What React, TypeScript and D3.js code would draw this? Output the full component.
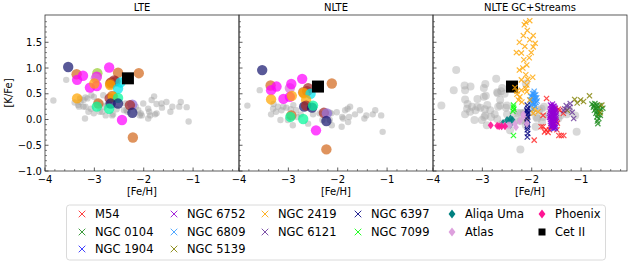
import React from 'react';
import * as d3 from 'd3';

type Pt = [number, number];
type LitPt = [number, number, string];

// literature stars coloured by source (LTE / NLTE panels)
const LIT_COLORS: Record<string, string> = {
  A: '#191970', // midnightblue
  B: '#d2691e', // chocolate
  C: '#ff00ff', // magenta
  D: '#ffa500', // orange
  E: '#a52a2a', // brown
  F: '#00e5ee', // cyan
  G: '#00fa9a', // springgreen
  H: '#9acd32', // yellowgreen
  I: '#9370db', // mediumpurple
  J: '#da70d6', // orchid
};

const LIT_LTE: LitPt[] = [
  [-3.53, 1.02, 'A'], [-3.36, 0.88, 'B'], [-3.23, 0.85, 'C'], [-3.35, 0.77, 'C'],
  [-2.94, 0.9, 'H'], [-2.95, 0.83, 'C'], [-2.97, 0.8, 'J'], [-2.7, 1.01, 'C'],
  [-2.52, 0.91, 'B'], [-2.1, 0.9, 'B'], [-3.09, 0.62, 'C'], [-2.95, 0.65, 'C'],
  [-3.0, 0.7, 'D'], [-2.66, 0.72, 'E'], [-2.6, 0.76, 'E'], [-2.57, 0.74, 'E'],
  [-2.68, 0.7, 'B'], [-2.68, 0.67, 'D'], [-2.52, 0.6, 'F'], [-2.47, 0.72, 'F'],
  [-3.35, 0.41, 'D'], [-2.69, 0.41, 'E'], [-2.64, 0.46, 'B'], [-2.62, 0.44, 'D'],
  [-2.52, 0.42, 'G'], [-2.67, 0.31, 'A'], [-2.52, 0.31, 'A'], [-2.92, 0.31, 'B'],
  [-2.95, 0.25, 'G'], [-2.7, 0.21, 'G'], [-2.23, 0.29, 'I'], [-2.28, 0.28, 'E'],
  [-2.23, 0.13, 'A'], [-2.44, -0.01, 'C'], [-2.22, -0.35, 'B'],
];

const LIT_NLTE: LitPt[] = [
  [-3.53, 0.96, 'A'], [-3.36, 0.66, 'B'], [-3.24, 0.64, 'C'], [-3.35, 0.57, 'C'],
  [-3.35, 0.39, 'D'], [-3.1, 0.4, 'C'], [-2.97, 0.61, 'J'], [-2.94, 0.69, 'C'],
  [-2.97, 0.44, 'C'], [-2.93, 0.46, 'D'], [-2.72, 0.79, 'C'], [-2.6, 0.61, 'E'],
  [-2.62, 0.55, 'E'], [-2.7, 0.53, 'B'], [-2.69, 0.51, 'D'], [-2.55, 0.5, 'F'],
  [-2.64, 0.38, 'D'], [-2.12, 0.7, 'B'], [-2.68, 0.25, 'A'], [-2.64, 0.27, 'E'],
  [-2.52, 0.23, 'A'], [-2.5, 0.27, 'G'], [-2.94, 0.08, 'B'], [-2.96, 0.05, 'G'],
  [-2.7, 0.01, 'G'], [-2.28, 0.13, 'E'], [-2.22, 0.12, 'I'], [-2.23, -0.03, 'A'],
  [-2.44, -0.21, 'C'], [-2.23, -0.58, 'B'],
];

const FIELD_LTE: Pt[] = [
  [-3.83, 0.37], [-3.57, 0.77], [-3.33, 0.28], [-3.29, 0.41], [-3.28, 0.34], [-3.22, 0.38],
  [-3.18, 0.43], [-3.14, 0.41], [-3.06, 0.47], [-3.01, 0.44], [-3.22, 0.25], [-3.18, 0.25],
  [-3.31, 0.25], [-3.12, 0.15], [-3.07, 0.21], [-3.19, 0.02], [-2.89, 0.15], [-2.87, 0.31],
  [-2.82, 0.47], [-2.81, 0.25], [-2.84, 0.15], [-3.01, 0.12], [-2.77, 0.08], [-2.64, 0.08],
  [-2.62, 0.1], [-2.4, 0.18], [-2.35, 0.18], [-2.33, 0.15], [-2.37, 0.31], [-2.16, 0.25],
  [-2.11, 0.18], [-2.08, 0.08], [-2.06, 0.12], [-2.01, 0.31], [-2.04, 0.08], [-1.91, 0.21],
  [-1.89, 0.15], [-1.91, 0.02], [-1.87, 0.08], [-1.84, 0.38], [-1.79, 0.45], [-1.77, 0.1],
  [-1.74, 0.3], [-1.74, 0.12], [-1.64, 0.31], [-1.63, 0.23], [-1.54, 0.34], [-1.46, 0.15],
  [-1.42, 0.25], [-1.28, 0.25], [-1.25, 0.34], [-1.13, 0.24], [-1.09, -0.04], [-2.95, 0.35],
  [-2.75, 0.28], [-3.4, 0.33], [-2.55, 0.2],
];

const FIELD_NLTE: Pt[] = [
  [-3.83, 0.27], [-3.58, 0.57], [-3.31, 0.21], [-3.21, 0.25], [-3.35, 0.1], [-3.14, 0.18],
  [-3.04, 0.23], [-3.16, -0.01], [-3.01, -0.01], [-2.91, -0.11], [-2.84, 0.18], [-2.82, 0.05],
  [-2.6, -0.08], [-2.37, 0.12], [-2.31, -0.01], [-2.16, 0.13], [-2.13, 0.12], [-2.16, -0.01],
  [-2.02, 0.14], [-2.12, -0.11], [-1.92, -0.14], [-1.89, 0.02], [-1.79, -0.05], [-1.85, 0.18],
  [-1.8, 0.21], [-1.75, 0.25], [-1.77, 0.05], [-1.91, 0.05], [-1.65, 0.1], [-1.55, 0.18],
  [-1.46, 0.02], [-1.42, 0.08], [-1.29, 0.1], [-1.24, 0.18], [-1.12, 0.08], [-1.09, -0.24],
  [-3.25, 0.15], [-2.95, 0.2], [-3.1, 0.25], [-2.75, 0.1], [-2.9, 0.28], [-2.5, 0.1], [-3.3, 0.3],
];

const CET_LTE: Pt = [-2.32, 0.8];
const CET_NLTE: Pt = [-2.4, 0.64];

// globular clusters (x markers)
const M54: Pt[] = [
  [-1.7, 0.41], [-1.53, 0.21], [-1.43, 0.18], [-1.46, 0.2], [-1.77, 0.08], [-1.81, -0.14],
  [-1.74, -0.24], [-1.67, -0.25], [-1.49, -0.2], [-1.51, -0.03], [-1.48, -0.07], [-1.77, -0.14],
  [-1.61, -0.16], [-1.45, -0.31], [-1.4, -0.31], [-1.35, -0.31], [-1.95, -0.4], [-1.71, -0.2],
  [-1.36, 0.12], [-1.64, -0.2],
];
const NGC0104: Pt[] = [
  [-0.78, 0.3], [-0.72, 0.31], [-0.68, 0.28], [-0.62, 0.27], [-0.75, 0.24], [-0.7, 0.22],
  [-0.65, 0.22], [-0.6, 0.2], [-0.73, 0.18], [-0.68, 0.16], [-0.63, 0.15], [-0.7, 0.12],
  [-0.66, 0.1], [-0.61, 0.08], [-0.68, 0.05], [-0.64, 0.02], [-0.67, -0.03], [-0.66, -0.08],
  [-0.56, 0.22], [-0.74, 0.27],
];
const NGC1904: Pt[] = [[-1.6, -0.14], [-1.55, -0.18], [-1.52, -0.16], [-1.57, -0.1]];
const NGC6752: Pt[] = [
  [-1.62, 0.28], [-1.58, 0.3], [-1.55, 0.26], [-1.6, 0.22], [-1.56, 0.2], [-1.52, 0.22],
  [-1.63, 0.16], [-1.59, 0.14], [-1.54, 0.15], [-1.5, 0.12], [-1.61, 0.1], [-1.57, 0.08],
  [-1.53, 0.06], [-1.64, 0.04], [-1.6, 0.02], [-1.56, 0.0], [-1.52, 0.02], [-1.62, -0.04],
  [-1.58, -0.06], [-1.54, -0.08], [-1.5, -0.04], [-1.6, -0.12], [-1.56, -0.14], [-1.52, -0.12],
  [-1.58, 0.18], [-1.55, 0.11], [-1.59, -0.01], [-1.53, -0.02], [-1.57, 0.25], [-1.51, 0.17],
  [-1.6, 0.26], [-1.54, 0.24], [-1.62, 0.2], [-1.56, 0.17], [-1.61, 0.13], [-1.55, 0.13],
  [-1.58, 0.11], [-1.63, 0.07], [-1.55, 0.05], [-1.51, 0.08], [-1.6, 0.05], [-1.57, 0.03],
  [-1.62, 0.0], [-1.54, -0.02], [-1.58, -0.03], [-1.61, -0.08], [-1.55, -0.1], [-1.58, -0.12],
  [-1.53, -0.15], [-1.57, -0.17],
];
const NGC6809: Pt[] = [
  [-2.02, 0.45], [-1.98, 0.5], [-1.95, 0.55], [-1.92, 0.48], [-1.97, 0.4], [-2.0, 0.35],
  [-1.94, 0.38], [-1.9, 0.42], [-1.96, 0.3], [-2.01, 0.28], [-1.93, 0.25], [-1.98, 0.2],
  [-1.91, 0.33], [-1.99, 0.44], [-1.95, 0.47], [-1.89, 0.36], [-2.03, 0.38], [-1.96, 0.34],
  [-1.97, 0.45], [-1.93, 0.42], [-1.99, 0.32], [-1.94, 0.3], [-1.96, 0.51],
];
const NGC5139: Pt[] = [
  [-1.28, 0.18], [-1.08, 0.32], [-1.01, 0.38], [-0.83, 0.46], [-0.58, 0.28], [-0.61, 0.13],
  [-1.13, 0.39], [-0.95, 0.35],
];
const NGC2419: Pt[] = [
  [-2.12, 1.89], [-2.04, 1.92], [-2.15, 1.84], [-2.09, 1.73], [-1.97, 1.63], [-2.17, 1.63],
  [-2.04, 1.55], [-2.25, 1.5], [-1.93, 1.48], [-1.97, 1.41], [-2.14, 1.42], [-2.31, 1.3],
  [-2.21, 1.29], [-2.01, 1.3], [-2.16, 1.16], [-2.1, 1.06], [-2.25, 0.96], [-2.12, 0.87],
  [-2.21, 0.77], [-2.08, 0.78], [-1.98, 0.82], [-2.34, 0.62], [-2.21, 0.57], [-2.12, 0.6],
  [-2.3, 0.49], [-2.24, 0.44], [-2.27, 0.38], [-2.1, 0.67], [-2.1, 0.54], [-1.97, 0.12],
  [-1.87, 0.15], [-2.1, 0.02], [-2.2, 0.34], [-2.04, 0.38], [-2.3, 0.55], [-1.95, 0.2],
  [-2.18, 1.0], [-2.05, 1.2],
];
const NGC6121: Pt[] = [
  [-1.3, 0.27], [-1.22, 0.31], [-1.23, 0.24], [-1.33, 0.21], [-1.15, 0.02], [-1.18, 0.14],
  [-1.35, 0.17],
];
const NGC6397: Pt[] = [
  [-2.09, 0.28], [-2.08, 0.22], [-2.1, 0.18], [-2.09, 0.16], [-2.08, 0.12], [-2.1, 0.1],
  [-2.08, 0.05], [-2.09, 0.0], [-2.1, -0.05], [-2.08, -0.1], [-2.09, -0.15], [-2.09, -0.2],
  [-2.08, -0.27], [-2.09, -0.34],
];
const NGC7099: Pt[] = [[-2.37, 0.28], [-2.37, 0.24], [-2.36, 0.2], [-2.38, 0.16], [-2.37, -0.31]];

// streams / dwarfs (diamonds)
const ALIQA_UMA: Pt[] = [[-2.5, -0.01], [-2.43, 0.02], [-2.58, -0.07], [-2.43, -0.1], [-2.39, -0.01], [-2.46, -0.05]];
const ATLAS: Pt[] = [
  [-2.61, -0.13], [-2.48, -0.11], [-2.34, -0.08], [-2.24, -0.03], [-2.17, 0.1], [-2.32, -0.15],
  [-2.44, -0.11], [-2.1, -0.08], [-2.17, 0.06], [-2.55, -0.12],
];
const PHOENIX: Pt[] = [[-2.83, -0.11], [-2.7, -0.12], [-2.66, -0.13], [-2.61, -0.13], [-2.54, -0.13]];

interface Group { name: string; color: string; marker: 'x' | 'd' | 's'; data: Pt[] }

const GROUPS: Group[] = [
  { name: 'M54', color: '#ff2020', marker: 'x', data: M54 },
  { name: 'NGC 0104', color: '#1a8a1a', marker: 'x', data: NGC0104 },
  { name: 'NGC 1904', color: '#2020ff', marker: 'x', data: NGC1904 },
  { name: 'NGC 6752', color: '#9400d3', marker: 'x', data: NGC6752 },
  { name: 'NGC 6809', color: '#3399ff', marker: 'x', data: NGC6809 },
  { name: 'NGC 5139', color: '#808000', marker: 'x', data: NGC5139 },
  { name: 'NGC 2419', color: '#ffa500', marker: 'x', data: NGC2419 },
  { name: 'NGC 6121', color: '#663399', marker: 'x', data: NGC6121 },
  { name: 'NGC 6397', color: '#000080', marker: 'x', data: NGC6397 },
  { name: 'NGC 7099', color: '#00ff00', marker: 'x', data: NGC7099 },
  { name: 'Aliqa Uma', color: '#008080', marker: 'd', data: ALIQA_UMA },
  { name: 'Atlas', color: '#dda0dd', marker: 'd', data: ATLAS },
  { name: 'Phoenix', color: '#ff1493', marker: 'd', data: PHOENIX },
  { name: 'Cet II', color: '#000000', marker: 's', data: [CET_NLTE] },
];

const X_TICKS = [-4, -3, -2, -1];
const Y_TICKS = [-1.0, -0.5, 0.0, 0.5, 1.0, 1.5];
const TITLES = ['LTE', 'NLTE', 'NLTE GC+Streams'];

const FONT = 'DejaVu Sans, sans-serif';
const W = 632;
const H = 266;
const PANEL_W = 194;
const PANEL_LEFTS = [45, 239, 433];
const TOP = 15;
const BOTTOM = 171;
const AXIS = '#333';

const fmt = (v: number, digits: number) => {
  const s = v.toFixed(digits);
  return s.startsWith('-') ? '\u2212' + s.slice(1) : s;
};

const XMark = ({ x, y, r, color, sw = 1.2, op = 0.8 }: { x: number; y: number; r: number; color: string; sw?: number; op?: number }) => (
  <path
    d={`M${x - r},${y - r}L${x + r},${y + r}M${x - r},${y + r}L${x + r},${y - r}`}
    stroke={color}
    strokeWidth={sw}
    opacity={op}
    fill="none"
  />
);

const Diamond = ({ x, y, r, color, op = 0.9 }: { x: number; y: number; r: number; color: string; op?: number }) => (
  <path d={`M${x},${y - r}L${x + r * 0.75},${y}L${x},${y + r}L${x - r * 0.75},${y}Z`} fill={color} opacity={op} />
);

function Panel({ idx }: { idx: number }) {
  const left = PANEL_LEFTS[idx];
  const x = d3.scaleLinear().domain([-4, -0.07]).range([left, left + PANEL_W]);
  const y = d3.scaleLinear().domain([-1, 2.03]).range([BOTTOM, TOP]);
  const xMinor = d3.range(-4, -0.05, 0.2).filter((v) => Math.abs(v - Math.round(v)) > 0.01);
  const yMinor = d3.range(-1, 2.01, 0.1).filter((v) => Math.abs(v * 2 - Math.round(v * 2)) > 0.01);

  const field = idx === 0 ? FIELD_LTE : FIELD_NLTE;
  const lit = idx === 0 ? LIT_LTE : LIT_NLTE;
  const cet = idx === 0 ? CET_LTE : CET_NLTE;

  return (
    <g>
      <defs>
        <clipPath id={`clip${idx}`}>
          <rect x={left} y={TOP} width={PANEL_W} height={BOTTOM - TOP} />
        </clipPath>
      </defs>
      <g clipPath={`url(#clip${idx})`}>
        {idx < 2 && (
          <>
            {field.map((d, i) => (
              <circle key={`f${i}`} cx={x(d[0])} cy={y(d[1])} r={3.2} fill="#a0a0a0" opacity={0.45} />
            ))}
            {lit.map((d, i) => (
              <circle key={`l${i}`} cx={x(d[0])} cy={y(d[1])} r={5.2} fill={LIT_COLORS[d[2]]} opacity={0.72} />
            ))}
            <rect x={x(cet[0]) - 6} y={y(cet[1]) - 6} width={12} height={12} fill="#000" />
          </>
        )}
        {idx === 2 && (
          <>
            {[...FIELD_NLTE, ...LIT_NLTE.map((d) => [d[0], d[1]] as Pt)].map((d, i) => (
              <circle key={`g${i}`} cx={x(d[0])} cy={y(d[1])} r={4} fill="#a8a8a8" opacity={0.45} />
            ))}
            <rect x={x(cet[0]) - 6} y={y(cet[1]) - 6} width={12} height={12} fill="#000" />
            {GROUPS.filter((g) => g.marker !== 's').map((g) =>
              g.data.map((d, i) =>
                g.marker === 'x' ? (
                  <XMark key={`${g.name}${i}`} x={x(d[0])} y={y(d[1])} r={2.6} color={g.color} />
                ) : (
                  <Diamond key={`${g.name}${i}`} x={x(d[0])} y={y(d[1])} r={4} color={g.color} />
                )
              )
            )}
          </>
        )}
      </g>

      {/* ticks, inward */}
      {X_TICKS.map((t) => (
        <g key={`xt${t}`}>
          <line x1={x(t)} x2={x(t)} y1={BOTTOM} y2={BOTTOM - 3.5} stroke={AXIS} strokeWidth={0.8} />
          <text x={x(t)} y={BOTTOM + 11.5} textAnchor="middle" fontSize={10} fontFamily={FONT} fill="#000">
            {fmt(t, 0)}
          </text>
        </g>
      ))}
      {xMinor.map((t, i) => (
        <line key={`xm${i}`} x1={x(t)} x2={x(t)} y1={BOTTOM} y2={BOTTOM - 2} stroke={AXIS} strokeWidth={0.6} />
      ))}
      {Y_TICKS.map((t) => (
        <g key={`yt${t}`}>
          <line x1={left} x2={left + 3.5} y1={y(t)} y2={y(t)} stroke={AXIS} strokeWidth={0.8} />
          {idx === 0 && (
            <text x={left - 3} y={y(t) + 3.6} textAnchor="end" fontSize={10} fontFamily={FONT} fill="#000">
              {fmt(t, 1)}
            </text>
          )}
        </g>
      ))}
      {yMinor.map((t, i) => (
        <line key={`ym${i}`} x1={left} x2={left + 2} y1={y(t)} y2={y(t)} stroke={AXIS} strokeWidth={0.6} />
      ))}
      <rect x={left} y={TOP} width={PANEL_W} height={BOTTOM - TOP} fill="none" stroke={AXIS} strokeWidth={0.8} />

      <text x={left + PANEL_W / 2} y={TOP - 4} textAnchor="middle" fontSize={10} fontFamily={FONT}>
        {TITLES[idx]}
      </text>
      <text x={left + PANEL_W / 2} y={BOTTOM + 24} textAnchor="middle" fontSize={10} fontFamily={FONT}>
        [Fe/H]
      </text>
    </g>
  );
}

// legend columns hold 3,3,2,2,2,2 entries (column-major like matplotlib)
const LEGEND_COL_COUNTS = [3, 3, 2, 2, 2, 2];
const LEGEND_COL_X = [82, 174, 265, 358, 452, 542];
const LEGEND_ROW_Y = [214, 232, 249];

function Legend() {
  const items: { g: Group; col: number; row: number }[] = [];
  let k = 0;
  LEGEND_COL_COUNTS.forEach((n, col) => {
    for (let row = 0; row < n; row++) items.push({ g: GROUPS[k++], col, row });
  });
  return (
    <g>
      <rect x={66.5} y={205} width={539} height={55} rx={3} fill="#fff" stroke="#d0d0d0" strokeWidth={0.8} />
      {items.map(({ g, col, row }) => {
        const mx = LEGEND_COL_X[col];
        const my = LEGEND_ROW_Y[row];
        return (
          <g key={g.name}>
            {g.marker === 'x' && <XMark x={mx} y={my} r={3.3} color={g.color} sw={1} op={0.85} />}
            {g.marker === 'd' && <Diamond x={mx} y={my} r={4.6} color={g.color} op={1} />}
            {g.marker === 's' && <rect x={mx - 3.5} y={my - 3.5} width={7} height={7} fill={g.color} />}
            <text x={mx + 13} y={my + 4} fontSize={11.5} fontFamily={FONT} fill="#000">
              {g.name}
            </text>
          </g>
        );
      })}
    </g>
  );
}

export default function App() {
  return (
    <svg
      width={W}
      height={H}
      style={{ position: 'absolute', left: 0, top: 0, background: '#fff' }}
      xmlns="http://www.w3.org/2000/svg"
    >
      <rect width={W} height={H} fill="#fff" />
      {[0, 1, 2].map((i) => (
        <Panel key={i} idx={i} />
      ))}
      <text
        transform={`translate(12,${(TOP + BOTTOM) / 2}) rotate(-90)`}
        textAnchor="middle"
        fontSize={10}
        fontFamily={FONT}
      >
        [K/Fe]
      </text>
      <Legend />
    </svg>
  );
}
